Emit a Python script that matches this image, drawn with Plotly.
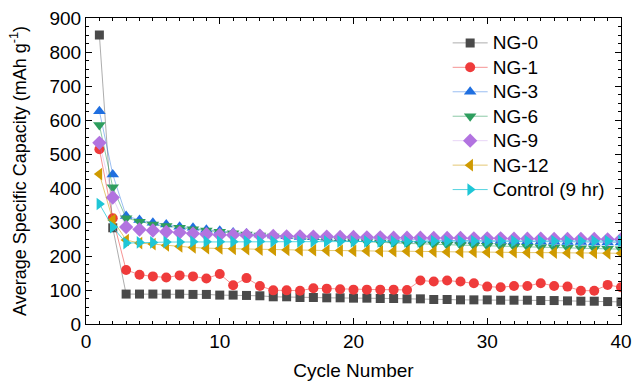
import plotly.graph_objects as go

cycles = list(range(1, 41))

ng0 = [850, 283, 88, 88, 88, 88, 88, 87, 87, 85, 85, 84, 83, 80, 80, 78, 78, 77, 77, 76,
       76, 75, 75, 74, 74, 72, 72, 71, 71, 71, 70, 70, 70, 69, 69, 68, 67, 67, 66, 65]
ng1 = [514, 311, 159, 145, 140, 137, 143, 140, 134, 147, 114, 135, 112, 99, 99, 98, 105, 104, 102, 101,
       101, 101, 101, 100, 128, 125, 128, 125, 120, 110, 108, 112, 112, 120, 112, 110, 98, 98, 115, 108]
ng3 = [626, 440, 318, 306, 298, 293, 286, 283, 277, 274, 269, 266, 263, 260, 258, 256, 255, 254, 252, 251,
       250, 249, 248, 248, 247, 246, 246, 245, 245, 244, 244, 243, 243, 242, 242, 241, 241, 240, 240, 240]
ng6 = [585, 402, 311, 301, 293, 288, 283, 279, 275, 271, 267, 263, 260, 257, 254, 251, 249, 247, 245, 243,
       241, 240, 238, 237, 236, 234, 233, 232, 231, 230, 229, 228, 227, 226, 225, 224, 223, 222, 221, 220]
ng9 = [533, 372, 285, 278, 275, 271, 269, 266, 264, 262, 262, 261, 260, 259, 258, 258, 257, 257, 256, 256,
       255, 255, 254, 254, 254, 253, 253, 253, 252, 252, 252, 251, 251, 251, 250, 250, 250, 250, 249, 249]
ng12 = [441, 306, 247, 238, 235, 231, 228, 225, 223, 222, 221, 220, 219, 218, 218, 217, 217, 216, 216, 215,
        215, 214, 214, 214, 213, 213, 212, 212, 212, 211, 211, 211, 210, 210, 210, 209, 209, 209, 208, 208]
control = [353, 285, 238, 240, 240, 241, 241, 242, 242, 242, 242, 243, 243, 243, 243, 243, 243, 243, 243, 243,
           243, 243, 243, 243, 243, 244, 244, 244, 244, 244, 244, 244, 244, 244, 244, 244, 244, 244, 244, 244]

series_names = ["NG-0", "NG-1", "NG-3", "NG-6", "NG-9", "NG-12", "Control (9 hr)"]
series_values = [ng0, ng1, ng3, ng6, ng9, ng12, control]

styles = [
    ("#4a4a4a", "rgba(74,74,74,0.45)", "square", 9),
    ("#ef3b3b", "rgba(239,59,59,0.55)", "circle", 10),
    ("#1f6fe0", "rgba(31,111,224,0.45)", "triangle-up", 11),
    ("#2e9e5e", "rgba(46,158,94,0.55)", "triangle-down", 11),
    ("#b273e0", "rgba(178,115,224,0.3)", "diamond", 11),
    ("#cf9a00", "rgba(207,154,0,0.55)", "triangle-left", 11),
    ("#1ec6d6", "rgba(30,198,214,0.75)", "triangle-right", 11),
]

fig = go.Figure()
for name, vals, (mc, lc, sym, sz) in zip(series_names, series_values, styles):
    fig.add_trace(go.Scatter(
        x=cycles, y=vals, name=f"<span style='font-size:19px'>{name}</span>",
        mode="lines+markers",
        line=dict(color=lc, width=1),
        marker=dict(symbol=sym, size=sz, color=mc, line=dict(width=0)),
    ))

font_family = "Liberation Sans, Arial, sans-serif"
axis_common = dict(
    showline=True, linecolor="black", linewidth=1.2, mirror="allticks",
    ticks="inside", ticklen=6, tickwidth=1.2, tickcolor="black",
    showgrid=False, zeroline=False, automargin=False,
    tickfont=dict(size=19, color="black", family=font_family),
)

fig.update_xaxes(
    range=[0, 40], dtick=10, tick0=0,
    title=dict(text="Cycle Number", font=dict(size=19, color="black", family=font_family), standoff=12),
    minor=dict(ticks="inside", dtick=1, ticklen=3, tickwidth=1, tickcolor="black"),
    **axis_common,
)
fig.update_yaxes(
    range=[0, 900], dtick=100, tick0=0,
    title=dict(text="Average Specific Capacity (mAh g<sup>-1</sup>)",
               font=dict(size=18, color="black", family=font_family), standoff=18),
    minor=dict(ticks="inside", dtick=25, ticklen=3, tickwidth=1, tickcolor="black"),
    **axis_common,
)

fig.update_layout(
    width=632, height=381,
    margin=dict(l=86, r=11, t=18, b=57),
    plot_bgcolor="white", paper_bgcolor="white",
    font=dict(family=font_family, color="black"),
    legend=dict(
        x=0.676, y=0.975, xanchor="left", yanchor="top",
        bgcolor="rgba(0,0,0,0)", borderwidth=0,
        font=dict(size=16.5, color="black", family=font_family),
        tracegroupgap=0, itemwidth=35,
    ),
)

fig.write_html("out.html", config={"displayModeBar": False},
               post_script="document.body.style.margin='0';document.body.style.padding='0';")
